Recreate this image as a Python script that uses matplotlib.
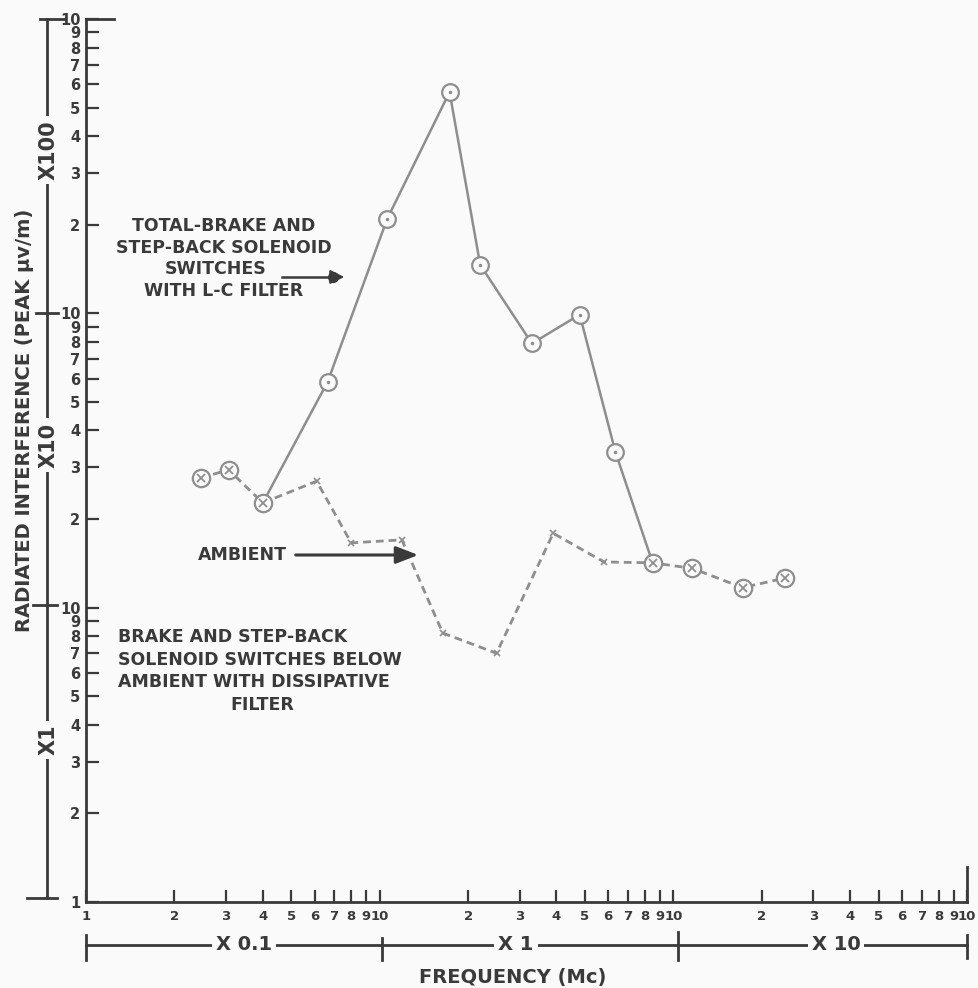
import numpy as np
import matplotlib.pyplot as plt
from matplotlib.lines import Line2D
from matplotlib.ticker import FixedLocator, FixedFormatter, NullLocator

# values: frequency in Mc, level in peak uV/m
lc_freq = [0.40, 0.665, 1.06, 1.73, 2.2, 3.3, 4.8, 6.35, 8.5]
lc_level = [22.7, 58.5, 209, 565, 146, 79, 99, 33.8, 14.2]

amb_freq = [0.246, 0.306, 0.40, 0.61, 0.80, 1.19, 1.64, 2.5, 3.9, 5.8, 8.5, 11.6, 17.2, 24]
amb_level = [27.6, 29.4, 22.7, 26.9, 16.6, 17.0, 8.2, 7.0, 17.9, 14.3, 14.2, 13.6, 11.7, 12.6]

# points drawn as circled x
cx_freq = [0.246, 0.306, 0.40, 8.5, 11.6, 17.2, 24]
cx_level = [27.6, 29.4, 22.7, 14.2, 13.6, 11.7, 12.6]
# small x marks along the ambient line
sx_freq = [0.61, 0.80, 1.19, 1.64, 2.5, 3.9, 5.8]
sx_level = [26.9, 16.6, 17.0, 8.2, 7.0, 17.9, 14.3]

decade_labels = ['2', '3', '4', '5', '6', '7', '8', '9', '10']
tick_labels = ['1'] + decade_labels * 3

W, H = 979, 988
bg = '#fafafa'
ink = '#3a3a3a'
gray = '#8e8e8e'

plt.rcParams['font.family'] = ['DejaVu Sans']
plt.rcParams['font.weight'] = 'bold'

def fx(p):
    return p / W

def fy(p):
    return 1 - p / H

fig = plt.figure(figsize=(W / 100, H / 100), dpi=100, facecolor=bg)
x0, x1, y0, y1 = 86, 967, 902, 19
ax = fig.add_axes([fx(x0), fy(y0), fx(x1) - fx(x0), fy(y1) - fy(y0)])
ax.set_facecolor(bg)
ax.set_xscale('log')
ax.set_yscale('log')
ax.set_xlim(0.1, 100)
ax.set_ylim(1, 1000)

xticks = [m * 10.0 ** e for e in (-1, 0, 1) for m in range(1, 10)] + [100]
yticks = [m * 10.0 ** e for e in (0, 1, 2) for m in range(1, 10)] + [1000]
ax.xaxis.set_major_locator(FixedLocator(xticks))
ax.xaxis.set_major_formatter(FixedFormatter(tick_labels))
ax.xaxis.set_minor_locator(NullLocator())
ax.yaxis.set_major_locator(FixedLocator(yticks))
ax.yaxis.set_major_formatter(FixedFormatter(tick_labels))
ax.yaxis.set_minor_locator(NullLocator())

for s in ('top', 'right'):
    ax.spines[s].set_visible(False)
for s in ('left', 'bottom'):
    ax.spines[s].set_color(ink)
    ax.spines[s].set_linewidth(2)
ax.tick_params(axis='both', direction='in', length=9, width=1.6, color=ink,
               labelcolor=ink)
ax.tick_params(axis='x', pad=6, labelsize=9.5)
ax.tick_params(axis='y', pad=4, labelsize=10.5)

# long top tick and the short right end post
ax.plot([0, 0.032], [1, 1], transform=ax.transAxes, color=ink, lw=2, clip_on=False)
ax.plot([1, 1], [0, 0.04], transform=ax.transAxes, color=ink, lw=2, clip_on=False)

# data
ax.plot(amb_freq, amb_level, color=gray, lw=2, dashes=(2.8, 1.8), zorder=2)
ax.plot(lc_freq, lc_level, color=gray, lw=1.8, zorder=3)
ax.plot(lc_freq[1:-1], lc_level[1:-1], 'o', ms=12, mfc=bg, mec=gray, mew=1.6, zorder=4)
ax.plot(lc_freq[1:-1], lc_level[1:-1], '.', ms=3, color=gray, zorder=5)
ax.plot(cx_freq, cx_level, 'o', ms=12.5, mfc=bg, mec=gray, mew=1.6, zorder=4)
ax.plot(cx_freq, cx_level, 'x', ms=6, color=gray, mew=1.3, zorder=5)
ax.plot(sx_freq, sx_level, 'x', ms=4, color=gray, mew=1.2, zorder=5)

txt = dict(color=ink, fontweight='bold')

def fline(xs, ys, lw=2):
    fig.add_artist(Line2D([fx(v) for v in xs], [fy(v) for v in ys],
                          transform=fig.transFigure, color=ink, lw=lw))

# axis titles
fig.text(fx(25), fy(420), u'RADIATED INTERFERENCE (PEAK \u03bcv/m)', rotation=90,
         ha='center', va='center', fontsize=14, **txt)
fig.text(fx(513), fy(977), 'FREQUENCY (Mc)', ha='center', va='center', fontsize=14, **txt)

# decade multipliers on the y side
fline([47, 47], [19, 898])
fline([40, 64], [19, 19])
fline([36, 58], [313, 313])
fline([33, 57], [605, 605])
fline([27, 57], [898, 898])
for label, yy in (('X100', 150), ('X10', 445), ('X1', 740)):
    fig.text(fx(49), fy(yy), label, rotation=90, ha='center', va='center', fontsize=15,
             bbox=dict(facecolor=bg, edgecolor='none', pad=3), **txt)

# decade multipliers under the x axis
fline([86, 967], [945, 945])
fline([86, 86], [935, 960])
fline([382, 382], [938, 960])
fline([678, 678], [932, 960])
fline([967, 967], [935, 958])
for label, xx in (('X 0.1', 244), ('X 1', 516), ('X 10', 836)):
    fig.text(fx(xx), fy(945), label, ha='center', va='center', fontsize=14,
             bbox=dict(facecolor=bg, edgecolor='none', pad=3), **txt)

# notes
lc_note = ['TOTAL-BRAKE AND', 'STEP-BACK SOLENOID', 'SWITCHES', 'WITH L-C FILTER']
for i, line in enumerate(lc_note):
    fig.text(fx(224) if i != 2 else fx(216), fy(226 + 21.7 * i), line,
             ha='center', va='center', fontsize=12.5, **txt)
fig.add_artist(plt.Line2D([fx(282), fx(336)], [fy(277), fy(277)],
                          transform=fig.transFigure, color=ink, lw=1.8))
fig.add_artist(plt.Line2D([fx(333)], [fy(277)], transform=fig.transFigure,
                          marker='o', ms=7, color=ink))
ax.annotate('', xy=(fx(347), fy(277)), xytext=(fx(333), fy(277)),
            xycoords='figure fraction', textcoords='figure fraction',
            arrowprops=dict(arrowstyle='-|>,head_length=0.6,head_width=0.3',
                            color=ink, lw=1.5, mutation_scale=14))

fig.text(fx(198), fy(555), 'AMBIENT', ha='left', va='center', fontsize=12.5, **txt)
ax.annotate('', xy=(fx(421), fy(555)), xytext=(fx(293), fy(555)),
            xycoords='figure fraction', textcoords='figure fraction',
            arrowprops=dict(arrowstyle='-|>,head_length=0.9,head_width=0.35',
                            color=ink, lw=2.2, mutation_scale=15))

below_note = ['BRAKE AND STEP-BACK', 'SOLENOID SWITCHES BELOW', 'AMBIENT WITH DISSIPATIVE']
for i, line in enumerate(below_note):
    fig.text(fx(118), fy(637 + 22.7 * i), line, ha='left', va='center', fontsize=12.5, **txt)
fig.text(fx(262), fy(705), 'FILTER', ha='center', va='center', fontsize=12.5, **txt)

fig.savefig('out.png', dpi=100, facecolor=bg)
